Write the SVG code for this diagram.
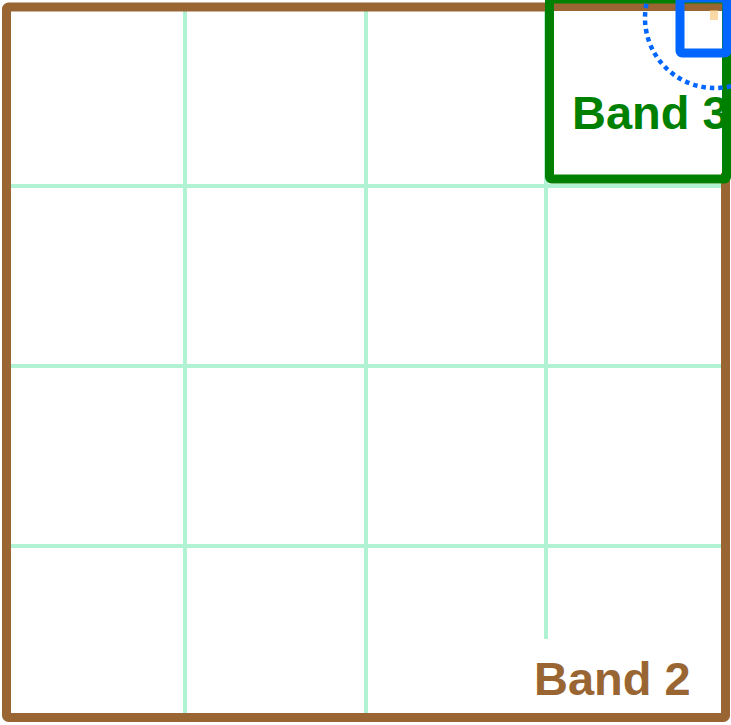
<svg xmlns="http://www.w3.org/2000/svg" width="731" height="725" viewBox="0 0 731 725">
  <style>
    .grid { stroke: #b0f2d2; stroke-width: 4; fill: none; }
    .lbl { font-family: "Liberation Sans", Arial, sans-serif; font-weight: bold; font-size: 47px; }
  </style>
  <rect x="0" y="0" width="731" height="725" fill="#ffffff"/>
  <g id="grid">
    <line class="grid" x1="185" y1="11" x2="185" y2="713"/>
    <line class="grid" x1="366" y1="11" x2="366" y2="713"/>
    <line class="grid" x1="546" y1="11" x2="546" y2="713"/>
    <line class="grid" x1="11" y1="186" x2="721" y2="186"/>
    <line class="grid" x1="11" y1="366" x2="721" y2="366"/>
    <line class="grid" x1="11" y1="546" x2="721" y2="546"/>
  </g>
  <g id="band2">
    <rect x="6.5" y="7" width="719" height="710.5" rx="2" fill="none" stroke="#996633" stroke-width="9"/>
    <rect x="522" y="639" width="199" height="74" fill="#ffffff"/>
    <text class="lbl" x="534" y="695" fill="#996633">Band 2</text>
  </g>
  <g id="band3">
    <rect x="554" y="11" width="168" height="162" fill="#ffffff"/>
    <text class="lbl" x="572" y="129" fill="#008000">Band 3</text>
    <rect x="549.5" y="-1" width="177" height="180" rx="2" fill="none" stroke="#008000" stroke-width="9"/>
  </g>
  <g id="point">
    <rect x="710" y="10" width="8" height="10" fill="#f5c26b" opacity="0.6"/>
  </g>
  <g id="connectors">
    <circle cx="715" cy="18" r="70" fill="none" stroke="#0066ff" stroke-width="4.5" stroke-dasharray="4.5 4"/>
  </g>
  <g id="band4">
    <rect x="680" y="-2" width="47" height="55" rx="2" fill="none" stroke="#0066ff" stroke-width="9"/>
  </g>
</svg>
